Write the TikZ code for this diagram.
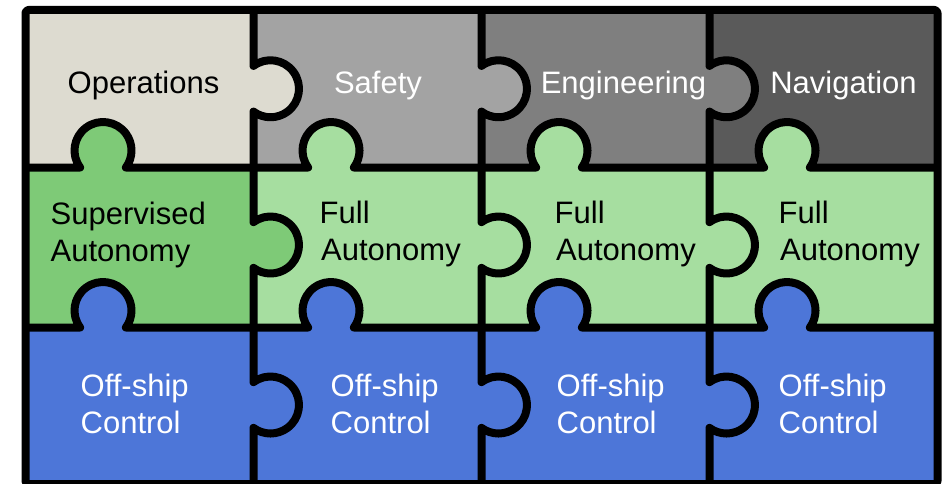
\documentclass[tikz,border=0pt]{standalone}
\usepackage{fontspec}
\setmainfont{Liberation Sans}
\definecolor{cOps}{HTML}{DDDBD0}
\definecolor{cSaf}{HTML}{A3A3A3}
\definecolor{cEng}{HTML}{7F7F7F}
\definecolor{cNav}{HTML}{5A5A5A}
\definecolor{cSup}{HTML}{7ECA77}
\definecolor{cFull}{HTML}{A6DEA0}
\definecolor{cOff}{HTML}{4D76D8}
\begin{document}
\begin{tikzpicture}[x=1pt,y=-1pt,
  edge/.style={draw=black,line width=8pt,line join=round},
  lbl/.style={inner sep=0pt,font=\fontsize{31}{37}\selectfont}]
\useasboundingbox (0,0) rectangle (944,484);
% cell fills
\fill[cOps] (25.5,10) rectangle (253.5,167.5);
\fill[cSaf] (253.5,10) rectangle (481.5,167.5);
\fill[cEng] (481.5,10) rectangle (709.5,167.5);
\fill[cNav] (709.5,10) rectangle (937.5,167.5);
\fill[cSup] (25.5,167.5) rectangle (253.5,327.5);
\fill[cFull] (253.5,167.5) rectangle (937.5,327.5);
\fill[cOff] (25.5,327.5) rectangle (937.5,484);
% knob fills (horizontal, protruding right)
\fill[cOps] (270.5,88.75) circle[radius=28.5];
\fill[cSaf] (498.5,88.75) circle[radius=28.5];
\fill[cEng] (726.5,88.75) circle[radius=28.5];
\fill[cSup] (270.5,245) circle[radius=28.5];
\fill[cFull] (498.5,245) circle[radius=28.5];
\fill[cFull] (726.5,245) circle[radius=28.5];
% knob fills (vertical, protruding up)
\fill[cSup] (103,150.5) circle[radius=28.5];
\foreach \c in {331,559,787} \fill[cFull] (\c,150.5) circle[radius=28.5];
\foreach \c in {103,331,559,787} \fill[cOff] (\c,310.5) circle[radius=28.5];
% horizontal boundary lines
\foreach \y in {167.5,327.5}
  \draw[edge] (25.5,\y) \foreach \c in {103,331,559,787} { -- (\c-22.87,\y) arc[start angle=143.4,end angle=396.6,radius=28.5] } -- (937.5,\y);
% vertical boundary lines
\foreach \x in {253.5,481.5,709.5}
  \draw[edge] (\x,10) \foreach \r in {88.75,245,405} { -- (\x,\r-22.87) arc[start angle=-126.6,end angle=126.6,radius=28.5] } -- (\x,484);
% frame
\draw[edge,rounded corners=3pt] (25.5,10) rectangle (937.5,484);
% labels
\node[lbl,anchor=base,text=black] (ops) at (143.5,93.5) {Operations};
\node[lbl,anchor=base,text=white] (saf) at (378,93.5) {Safety};
\node[lbl,anchor=base,text=white] (eng) at (623.5,93.5) {Engineering};
\node[lbl,anchor=base,text=white] (nav) at (843.5,93.5) {Navigation};
\node[lbl,anchor=base west,text=black] (sup1) at (50.5,224.5) {Supervised};
\node[lbl,anchor=base west,text=black] (sup2) at (50.5,261.5) {Autonomy};
\node[lbl,anchor=base west,text=black] (fa1) at (319.5,223.5) {Full};
\node[lbl,anchor=base west,text=black] (fa2) at (321,260.5) {Autonomy};
\node[lbl,anchor=base west,text=black] (fb1) at (554.5,223.5) {Full};
\node[lbl,anchor=base west,text=black] (fb2) at (556,260.5) {Autonomy};
\node[lbl,anchor=base west,text=black] (fc1) at (778.5,223.5) {Full};
\node[lbl,anchor=base west,text=black] (fc2) at (780,260.5) {Autonomy};
\node[lbl,anchor=base west,text=white] (oa1) at (80.5,396) {Off-ship};
\node[lbl,anchor=base west,text=white] (oa2) at (80.5,433) {Control};
\node[lbl,anchor=base west,text=white] (ob1) at (330.5,396) {Off-ship};
\node[lbl,anchor=base west,text=white] (ob2) at (330.5,433) {Control};
\node[lbl,anchor=base west,text=white] (oc1) at (556.5,396) {Off-ship};
\node[lbl,anchor=base west,text=white] (oc2) at (556.5,433) {Control};
\node[lbl,anchor=base west,text=white] (od1) at (778.5,396) {Off-ship};
\node[lbl,anchor=base west,text=white] (od2) at (778.5,433) {Control};
\end{tikzpicture}
\end{document}
